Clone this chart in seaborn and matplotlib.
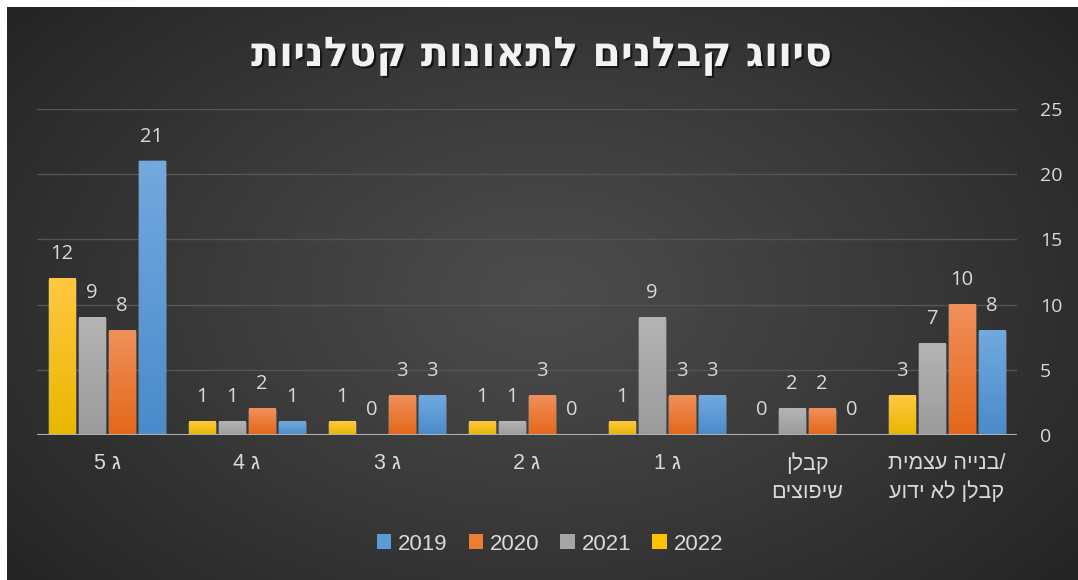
import re
import numpy as np
import pandas as pd
import matplotlib
matplotlib.use("Agg")
import matplotlib.pyplot as plt
import seaborn as sns
from matplotlib import patheffects as pe
from matplotlib.colors import LinearSegmentedColormap, to_rgb
from matplotlib.patches import Patch

# ---------------- data ----------------
categories = ["ג 5", "ג 4", "ג 3", "ג 2", "ג 1", "קבלן\nשיפוצים", "בנייה עצמית/\nקבלן לא ידוע"]
years = ["2019", "2020", "2021", "2022"]
v2019 = [21, 1, 3, 0, 3, 0, 8]
v2020 = [8, 2, 3, 3, 3, 2, 10]
v2021 = [9, 1, 0, 1, 9, 2, 7]
v2022 = [12, 1, 1, 1, 1, 0, 3]
title = "סיווג קבלנים לתאונות קטלניות"
yticks = [0, 5, 10, 15, 20, 25]

series = {"2019": v2019, "2020": v2020, "2021": v2021, "2022": v2022}
rows = []
for y in years:
    for c, v in zip(categories, series[y]):
        rows.append({"cat": c, "year": y, "val": v})
df = pd.DataFrame(rows)

def vis(s):
    """Visual (display) order for Hebrew text, LTR paragraph."""
    out = []
    for line in s.split("\n"):
        tail = ""
        if line.endswith("/"):
            line, tail = line[:-1], "/"
        tokens = re.findall(r"\d+|\D", line)
        out.append("".join(reversed(tokens)) + tail)
    return "\n".join(out)

# ---------------- style ----------------
sns.set_style("white")
plt.rcParams["font.family"] = ["Open Sans", "DejaVu Sans"]
txt_col = "#d9d9d9"

solid = {"2019": "#5b9bd5", "2020": "#ed7d31", "2021": "#a5a5a5", "2022": "#ffc000"}
grad_cols = {
    "2019": ("#4a8bcc", "#72a9de"),
    "2020": ("#e4671a", "#f0905a"),
    "2021": ("#9b9b9b", "#b4b4b4"),
    "2022": ("#e8b700", "#ffc840"),
}
hue_order = ["2022", "2021", "2020", "2019"]

W, H = 1078, 580
fig = plt.figure(figsize=(W / 100, H / 100), dpi=100, facecolor="white")

# background radial gradient panel
bg = fig.add_axes([7 / W, 0, 1 - 7 / W, 1 - 7 / H], zorder=-5)
nx, ny = 400, 220
xx, yy = np.meshgrid(np.linspace(0, 1, nx), np.linspace(0, 1, ny))
d = np.sqrt(((xx - 0.5) / 0.62) ** 2 + ((yy - 0.5) / 0.75) ** 2)
d = np.clip(d / d.max(), 0, 1) ** 1.1
inner = np.array(to_rgb("#4c4c4c"))
outer = np.array(to_rgb("#242424"))
img = inner[None, None, :] + (outer - inner)[None, None, :] * d[..., None]
bg.imshow(img, aspect="auto", extent=[0, 1, 0, 1], interpolation="bicubic")
bg.set_axis_off()

ax = fig.add_axes([37 / W, (H - 435) / H, (1017 - 37) / W, (435 - 109) / H])
ax.set_facecolor("none")

sns.barplot(data=df, x="cat", y="val", hue="year", order=categories,
            hue_order=hue_order, palette=solid, width=0.857, gap=0.13,
            errorbar=None, legend=False, ax=ax, zorder=3)

# gradient fills
g = np.linspace(0, 1, 100).reshape(-1, 1)
for cont, yr in zip(ax.containers, hue_order):
    cmap = LinearSegmentedColormap.from_list(yr, list(grad_cols[yr]))
    for p in cont.patches:
        x0, w, h = p.get_x(), p.get_width(), p.get_height()
        if h > 0:
            ax.imshow(g, extent=[x0, x0 + w, 0, h], origin="lower", cmap=cmap,
                      aspect="auto", zorder=3.5, interpolation="bilinear")
    ax.bar_label(cont, fmt="{:.0f}", padding=10.5, color=txt_col, fontsize=14.5,
                 zorder=6)

ax.set_xlim(-0.5, len(categories) - 0.5)
ax.set_ylim(0, 25)
ax.set_yticks(yticks)
ax.yaxis.tick_right()
ax.yaxis.grid(True, color="#555555", lw=1, zorder=0)
ax.set_axisbelow(True)
ax.axhline(0, color="#b0b0b0", lw=2.2, zorder=5)
for s in ax.spines.values():
    s.set_visible(False)
ax.tick_params(axis="both", length=0, colors=txt_col, labelsize=14)
ax.tick_params(axis="y", pad=16.5)
ax.tick_params(axis="x", pad=13)
for t in ax.get_yticklabels():
    t.set_ha("left")
ax.set_xticks(range(len(categories)))
ax.set_xticklabels([vis(c) for c in categories], linespacing=1.45,
                   fontsize=15.5, family=["Liberation Sans", "DejaVu Sans"])
ax.set_xlabel("")
ax.set_ylabel("")

# title
fig.text(542 / W, 1 - 56 / H, vis(title), ha="center", va="center",
         fontsize=29.5, fontweight="bold", color="#f2f2f2",
         family=["DejaVu Sans"],
         path_effects=[pe.withSimplePatchShadow(offset=(1.5, -1.5),
                                                shadow_rgbFace="black", alpha=0.6)])

# legend
handles = [Patch(facecolor=solid[y], edgecolor="none", label=y) for y in years]
fig.legend(handles=handles, loc="center", bbox_to_anchor=(550 / W, 1 - 544 / H),
           ncol=4, frameon=False, handlelength=0.65, handleheight=0.65,
           handletextpad=0.3, columnspacing=0.95,
           prop={"family": "Liberation Sans", "size": 16}, labelcolor=txt_col)

fig.savefig("out.png", dpi=100, facecolor="white")
